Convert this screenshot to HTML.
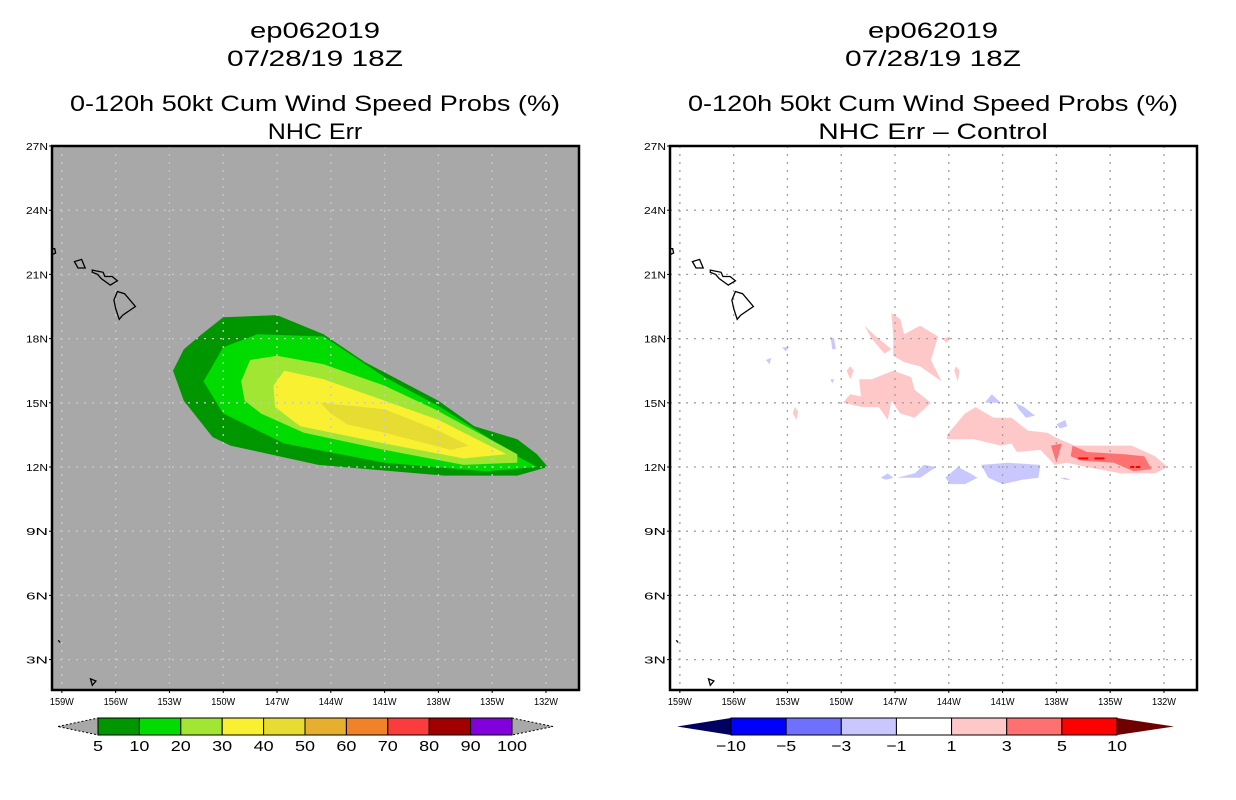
<!DOCTYPE html>
<html><head><meta charset="utf-8">
<style>
html,body{margin:0;padding:0;background:#fff;}
svg{display:block;font-family:"Liberation Sans",sans-serif;}
</style></head>
<body>
<svg id="chart" width="1236" height="800" viewBox="0 0 1236 800" xmlns="http://www.w3.org/2000/svg">
</svg>
<script>
// ---- data ----
const latTicks = [27,24,21,18,15,12,9,6,3];
const lonTicks = [159,156,153,150,147,144,141,138,135,132];
const probLevels = ["5","10","20","30","40","50","60","70","80","90","100"];
const probColors = ["#009600","#00DC00","#A0E632","#FAF032","#E6DC32","#E6AF2D","#F08228","#FA3C3C","#A00000","#8200DC"];
const diffLevels = ["-10","-5","-3","-1","1","3","5","10"];
const diffColors = ["#0000FF","#7070FF","#C8C8FF","#FFFFFF","#FFC8C8","#FF7070","#FF0000"];
// contour polygons as [lonW, latN]
const prob5 = [[152.8,16.5],[152.2,17.5],[151.2,18.2],[150.0,19.0],[147.0,19.1],[144.4,18.2],[142.1,16.9],[138.0,15.1],[136.0,13.9],[133.6,13.3],[132.5,12.6],[131.9,12.0],[133.6,11.6],[137.7,11.6],[144.7,12.1],[149.6,13.0],[150.6,13.4],[152.2,15.1]];
const prob10 = [[151.1,16.0],[150.0,17.6],[148.1,18.2],[144.4,18.1],[141.0,16.2],[137.9,14.8],[133.6,12.5],[132.5,12.0],[135.4,11.8],[141.0,12.2],[146.6,13.1],[150.0,14.5]];
const prob20 = [[149.0,16.0],[148.5,17.0],[147.0,17.2],[144.4,16.8],[141.0,15.8],[138.2,14.7],[133.6,12.6],[133.6,12.2],[136.6,12.1],[141.0,12.8],[145.5,13.6],[147.9,14.5],[148.8,15.1]];
const prob30 = [[147.2,15.8],[146.6,16.5],[144.4,16.1],[141.0,15.1],[138.0,14.2],[134.2,12.6],[136.6,12.4],[141.0,13.1],[145.7,13.9],[147.1,14.8]];
const prob40 = [[144.6,15.0],[141.0,14.7],[138.0,13.7],[136.3,13.0],[137.3,12.8],[141.0,13.6],[143.1,14.0],[144.0,14.5]];
const diffPos1 = [
 [[147.2,19.2],[146.7,18.9],[146.5,18.2],[145.6,18.6],[144.6,18.1],[145.0,17.0],[144.4,16.0],[145.6,16.7],[146.5,16.9],[147.1,17.2],[147.1,18.1]],
 [[149.0,16.1],[148.3,16.1],[147.1,16.5],[146.1,16.2],[145.9,15.6],[145.0,15.0],[145.9,14.3],[146.7,14.5],[147.2,15.1],[147.4,14.2],[147.9,14.8],[148.8,14.8],[149.9,15.0],[149.5,15.4],[148.9,15.3]],
 [[148.7,18.6],[148.2,18.2],[147.2,17.5],[147.6,17.3],[148.3,18.0]],
 [[149.5,16.7],[149.7,16.5],[149.5,16.1],[149.3,16.5]],
 [[143.6,16.7],[143.7,16.5],[143.5,16.0],[143.4,16.5]],
 [[144.4,18.0],[143.9,18.1],[144.1,17.8]],
 [[152.6,14.8],[152.4,14.6],[152.5,14.2],[152.7,14.5]],
 [[144.1,13.5],[143.1,14.5],[142.5,14.8],[141.5,14.3],[140.5,14.3],[139.6,13.7],[138.5,13.6],[138.1,13.4],[137.0,13.0],[133.8,13.0],[132.5,12.5],[131.8,12.0],[132.5,11.7],[134.4,11.7],[136.3,12.0],[137.4,12.2],[138.1,12.1],[138.9,12.8],[140.2,12.7],[140.5,13.1],[141.1,13.0],[142.6,13.3],[144.1,13.3]]
];
const diffPos3 = [
 [[138.3,13.0],[137.7,13.1],[138.0,12.2]],
 [[137.1,13.0],[136.3,12.7],[134.2,12.6],[133.1,12.5],[132.7,11.9],[133.7,11.8],[134.8,12.2],[136.6,12.3],[137.2,12.5]]
];
const diffNeg1 = [
 [[142.0,15.0],[141.6,15.4],[141.1,15.0]],
 [[140.3,15.0],[139.8,14.8],[139.2,14.4],[139.7,14.3],[140.1,14.7]],
 [[138.0,14.0],[137.5,14.2],[137.4,13.9],[137.8,13.8]],
 [[142.2,12.1],[140.7,12.2],[138.9,12.1],[139.0,11.5],[139.9,11.4],[141.0,11.2],[141.8,11.5]],
 [[144.2,11.5],[143.5,12.0],[142.8,11.7],[142.4,11.5],[143.1,11.2],[143.9,11.2]],
 [[146.9,11.5],[145.9,11.7],[145.4,12.1],[144.7,12.0],[145.6,11.5],[146.7,11.5]],
 [[147.8,11.5],[147.4,11.7],[147.1,11.5],[147.5,11.4]],
 [[137.8,11.5],[137.5,11.5],[137.2,11.4],[137.5,11.4]],
 [[150.6,18.1],[150.4,18.0],[150.3,17.5],[150.5,17.5]],
 [[150.6,16.1],[150.4,16.1],[150.5,15.9]],
 [[153.3,17.6],[152.9,17.6],[153.1,17.4]],
 [[154.2,17.0],[153.9,17.1],[154.0,16.8]]
];
const diffPeaks = [[136.5,12.4],[135.6,12.4],[133.6,12.0]];
// Hawaii outlines [lonW, latN]
const islands = [
 [[158.3,21.6],[157.9,21.7],[157.7,21.3],[158.1,21.3]],
 [[157.3,21.2],[156.7,21.1],[156.6,20.9],[156.2,20.9],[155.9,20.7],[156.3,20.5],[156.8,20.8],[157.0,21.0],[157.3,21.1]],
 [[155.9,20.2],[155.5,20.1],[154.9,19.5],[155.6,19.1],[155.8,18.9],[156.0,19.4],[156.1,19.8]],
 [[159.6,22.2],[159.4,22.2],[159.35,22.0],[159.6,21.9]],
 [[159.2,3.9],[159.1,3.8]],
 [[157.4,2.1],[157.1,2.0],[157.3,1.8]]
];

// ---- axes ----
const PY0=146, PY1=690, PW=527;
const LON0=159.55, LAT0=27;
const PXDEG=17.93, PYDEG=21.4;
function xs(ox,lonW){return ox+(LON0-lonW)*PXDEG;}
function ys(lat){return PY0+(LAT0-lat)*PYDEG;}

const svg=document.getElementById('chart');
const NS='http://www.w3.org/2000/svg';
function mk(tag,attrs,parent){const e=document.createElementNS(NS,tag);for(const k in attrs)e.setAttribute(k,attrs[k]);(parent||svg).appendChild(e);return e;}
function poly(ox,pts,fill,stroke,parent,name){
  const p=mk('polygon',{points:pts.map(q=>xs(ox,q[0]).toFixed(1)+','+ys(q[1]).toFixed(1)).join(' '),fill:fill,stroke:stroke||'none','stroke-width':1.3},parent);
  
  
  return p;
}
function txt(x,y,s,size,anchor,parent,name,len){
  const t=mk('text',{x:x,y:y,'font-size':size,'text-anchor':anchor||'middle',fill:'#000'},parent);
  if(len){t.setAttribute('textLength',len);t.setAttribute('lengthAdjust','spacingAndGlyphs');}
  t.textContent=s;
  
  
  return t;
}

function panel(ox,bg,titleLine,gridColor,drawFn,name){
  const g=mk('g',{});
  
  
  const cx=ox+263;
  txt(cx,38,'ep062019',22,'middle',g,'storm-id-title',130);
  txt(cx,66,'07/28/19 18Z',22,'middle',g,'date-title',176);
  txt(cx,111,'0-120h 50kt Cum Wind Speed Probs (%)',22,'middle',g,'product-title',490);
  txt(cx,139,titleLine,22,'middle',g,'subtitle',titleLine.length*13.5);
  const bgR=mk('rect',{x:ox,y:PY0,width:PW,height:PY1-PY0,fill:bg},g);
  
  
  const clip=mk('clipPath',{id:'clip'+ox},g);
  mk('rect',{x:ox,y:PY0,width:PW,height:PY1-PY0},clip);
  const inner=mk('g',{'clip-path':'url(#clip'+ox+')'},g);
  drawFn(inner);
  // grid
  lonTicks.forEach(l=>{const x=xs(ox,l);const ln=mk('line',{x1:x,x2:x,y1:PY0,y2:PY1,stroke:gridColor,'stroke-width':1.3,'stroke-dasharray':'2,6'},inner);
    });
  latTicks.forEach(l=>{const y=ys(l);const ln=mk('line',{x1:ox,x2:ox+PW,y1:y,y2:y,stroke:gridColor,'stroke-width':1.3,'stroke-dasharray':'2,6'},inner);
    });
  islands.forEach(p=>poly(ox,p,'none','#000',inner,'coastline'));
  const fr=mk('rect',{x:ox,y:PY0,width:PW,height:PY1-PY0,fill:'none',stroke:'#000','stroke-width':2.5},g);
  
  latTicks.forEach(l=>{txt(ox-4,ys(l)+4,l+'N',10,'end',g,'lat-tick-label',22);mk('line',{x1:ox-3,x2:ox,y1:ys(l),y2:ys(l),stroke:'#000'},g);});
  lonTicks.forEach(l=>{txt(xs(ox,l),705,l+'W',10,'middle',g,'lon-tick-label',24);mk('line',{x1:xs(ox,l),x2:xs(ox,l),y1:PY1,y2:PY1+3,stroke:'#000'},g);});
  return g;
}

panel(52,'#A8A8A8','NHC Err','#C8C8C8',function(g){
  poly(52,prob5,probColors[0],null,g,'contour-5pct');
  poly(52,prob10,probColors[1],null,g,'contour-10pct');
  poly(52,prob20,probColors[2],null,g,'contour-20pct');
  poly(52,prob30,probColors[3],null,g,'contour-30pct');
  poly(52,prob40,probColors[4],null,g,'contour-40pct');
},'left-panel');

panel(670,'#FFFFFF','NHC Err \u2013 Control','#A0A0A0',function(g){
  diffPos1.forEach(p=>poly(670,p,diffColors[4],null,g,'diff-contour-plus1'));
  diffPos3.forEach(p=>poly(670,p,diffColors[5],null,g,'diff-contour-plus3'));
  diffNeg1.forEach(p=>poly(670,p,diffColors[2],null,g,'diff-contour-minus1'));
  diffPeaks.forEach(p=>{const c=mk('rect',{x:xs(670,p[0])-5,y:ys(p[1])-1,width:10,height:2,fill:'#FF0000'},g);
    });
},'right-panel');

// ---- colorbars ----
function colorbar(x0,x1,tl,tr,colors,levels,leftC,rightC,name,dotted){
  const g=mk('g',{});
  
  
  const y0=718,y1=735,ym=726.5;
  const w=(x1-x0)/colors.length;
  const lt=mk('polygon',{points:`${tl},${ym} ${x0},${y0} ${x0},${y1}`,fill:leftC,stroke:dotted?'#000':'none','stroke-dasharray':dotted?'2,2':'','stroke-width':1},g);
  
  const rt=mk('polygon',{points:`${tr},${ym} ${x1},${y0} ${x1},${y1}`,fill:rightC,stroke:dotted?'#000':'none','stroke-dasharray':dotted?'2,2':'','stroke-width':1},g);
  
  colors.forEach((c,i)=>{const r=mk('rect',{x:x0+i*w,y:y0,width:w,height:y1-y0,fill:c,stroke:'#000','stroke-width':1},g);
    });
  levels.forEach((s,i)=>{const lbl=s.replace('-','\u2212');txt(x0+i*w,751,lbl,15,'middle',g,'colorbar-label',lbl.length*10);});
}
colorbar(98,512,58,553,probColors,probLevels,'#A8A8A8','#A8A8A8','probability-colorbar',true);
colorbar(731,1117,677,1174,diffColors,diffLevels,'#000060','#6E0000','difference-colorbar',false);
</script>
</body></html>
